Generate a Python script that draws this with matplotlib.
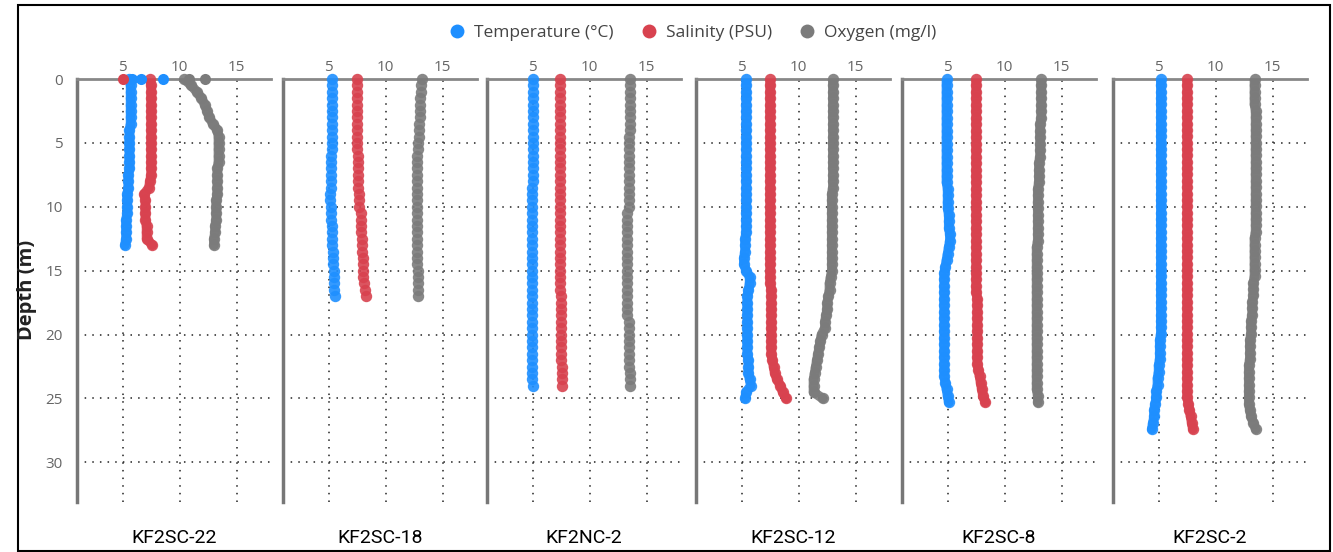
import numpy as np
import matplotlib
matplotlib.use("Agg")
import matplotlib.pyplot as plt
from matplotlib.lines import Line2D
from matplotlib.patches import Rectangle

# station names and maximum sampled depth (m)
stations = ["KF2SC-22", "KF2SC-18", "KF2NC-2", "KF2SC-12", "KF2SC-8", "KF2SC-2"]
max_depth = [13.0, 17.0, 24.0, 25.0, 25.3, 27.4]

# profiles, read every ~0.5 m from the surface down
temp = [
    [5.6, 5.7, 5.7, 5.7, 5.7, 5.7, 5.7, 5.7, 5.6, 5.6, 5.6, 5.6, 5.6, 5.6, 5.6, 5.5, 5.5, 5.5, 5.4, 5.4,
     5.4, 5.4, 5.3, 5.3, 5.3, 5.3, 5.2],
    [5.3, 5.3, 5.3, 5.3, 5.3, 5.3, 5.3, 5.3, 5.3, 5.3, 5.3, 5.3, 5.2, 5.2, 5.2, 5.2, 5.2, 5.2, 5.1, 5.1,
     5.2, 5.2, 5.2, 5.3, 5.3, 5.3, 5.3, 5.4, 5.4, 5.4, 5.5, 5.5, 5.5, 5.5, 5.6],
    [5.0, 5.0, 5.0, 5.0, 5.0, 5.0, 5.0, 5.0, 5.0, 5.0, 5.0, 5.0, 5.0, 5.0, 5.0, 5.0, 5.0, 4.9, 4.9, 4.9,
     4.9, 4.9, 4.9, 4.9, 4.9, 4.9, 4.9, 4.9, 4.9, 4.9, 4.9, 4.9, 4.9, 4.9, 4.9, 4.9, 4.9, 4.9, 4.9, 4.9,
     4.9, 4.9, 4.9, 4.9, 4.9, 4.9, 4.9, 4.9, 5.0],
    [5.4, 5.4, 5.4, 5.4, 5.4, 5.4, 5.4, 5.4, 5.4, 5.4, 5.4, 5.4, 5.4, 5.4, 5.4, 5.4, 5.4, 5.4, 5.4, 5.4,
     5.4, 5.4, 5.4, 5.4, 5.4, 5.3, 5.3, 5.3, 5.2, 5.2, 5.4, 5.7, 5.7, 5.6, 5.5, 5.5, 5.5, 5.5, 5.5, 5.5,
     5.5, 5.5, 5.5, 5.5, 5.6, 5.6, 5.6, 5.7, 5.8, 5.4, 5.3],
    [4.9, 4.9, 4.9, 4.9, 4.9, 4.9, 4.9, 4.9, 4.9, 4.9, 4.9, 4.9, 4.9, 4.9, 4.9, 4.9, 4.9, 5.0, 5.0, 5.0,
     5.0, 5.1, 5.1, 5.1, 5.2, 5.2, 5.1, 5.0, 4.9, 4.8, 4.7, 4.7, 4.7, 4.7, 4.7, 4.7, 4.7, 4.7, 4.7, 4.7,
     4.7, 4.7, 4.7, 4.7, 4.7, 4.7, 4.7, 4.8, 4.9, 5.0, 5.1],
    [5.2, 5.2, 5.2, 5.2, 5.2, 5.2, 5.2, 5.2, 5.2, 5.2, 5.2, 5.2, 5.2, 5.2, 5.2, 5.2, 5.2, 5.2, 5.2, 5.2,
     5.2, 5.2, 5.2, 5.2, 5.2, 5.2, 5.2, 5.2, 5.2, 5.2, 5.2, 5.2, 5.2, 5.2, 5.2, 5.2, 5.2, 5.2, 5.2, 5.2,
     5.2, 5.1, 5.1, 5.1, 5.1, 5.0, 5.0, 4.9, 4.9, 4.8, 4.8, 4.7, 4.6, 4.6, 4.5, 4.4],
]
salinity = [
    [7.4, 7.5, 7.5, 7.5, 7.5, 7.5, 7.5, 7.5, 7.5, 7.5, 7.5, 7.5, 7.5, 7.5, 7.5, 7.5, 7.4, 7.3, 6.9, 7.0,
     7.0, 7.0, 7.0, 7.1, 7.1, 7.1, 7.6],
    [7.5, 7.5, 7.5, 7.5, 7.5, 7.5, 7.5, 7.5, 7.5, 7.5, 7.5, 7.5, 7.6, 7.6, 7.6, 7.6, 7.6, 7.6, 7.7, 7.7,
     7.7, 7.8, 7.8, 7.8, 7.8, 7.9, 7.9, 7.9, 8.0, 8.0, 8.0, 8.0, 8.1, 8.2, 8.3],
    [7.4, 7.4, 7.4, 7.4, 7.4, 7.4, 7.4, 7.4, 7.4, 7.4, 7.4, 7.4, 7.4, 7.4, 7.4, 7.4, 7.4, 7.4, 7.4, 7.4,
     7.4, 7.4, 7.4, 7.4, 7.4, 7.4, 7.4, 7.4, 7.4, 7.4, 7.4, 7.4, 7.4, 7.4, 7.5, 7.5, 7.5, 7.5, 7.5, 7.5,
     7.5, 7.5, 7.5, 7.5, 7.5, 7.6, 7.6, 7.6, 7.6],
    [7.5, 7.5, 7.5, 7.5, 7.5, 7.5, 7.5, 7.5, 7.5, 7.5, 7.5, 7.5, 7.5, 7.5, 7.5, 7.5, 7.5, 7.5, 7.5, 7.5,
     7.5, 7.5, 7.5, 7.5, 7.5, 7.5, 7.5, 7.5, 7.5, 7.5, 7.5, 7.5, 7.5, 7.6, 7.6, 7.6, 7.6, 7.6, 7.6, 7.6,
     7.6, 7.6, 7.6, 7.6, 7.7, 7.8, 7.9, 8.1, 8.4, 8.6, 8.9],
    [7.5, 7.5, 7.5, 7.5, 7.5, 7.5, 7.5, 7.5, 7.5, 7.5, 7.5, 7.5, 7.5, 7.5, 7.5, 7.5, 7.5, 7.5, 7.5, 7.5,
     7.5, 7.5, 7.5, 7.5, 7.5, 7.5, 7.5, 7.5, 7.5, 7.5, 7.5, 7.5, 7.5, 7.5, 7.6, 7.6, 7.6, 7.6, 7.6, 7.6,
     7.6, 7.6, 7.6, 7.6, 7.6, 7.7, 7.8, 7.9, 8.0, 8.1, 8.3],
    [7.5, 7.5, 7.5, 7.5, 7.5, 7.5, 7.5, 7.5, 7.5, 7.5, 7.5, 7.5, 7.5, 7.5, 7.5, 7.5, 7.5, 7.5, 7.5, 7.5,
     7.5, 7.5, 7.5, 7.5, 7.5, 7.5, 7.5, 7.5, 7.5, 7.5, 7.5, 7.5, 7.5, 7.5, 7.5, 7.5, 7.5, 7.5, 7.5, 7.5,
     7.5, 7.5, 7.5, 7.5, 7.5, 7.5, 7.5, 7.5, 7.5, 7.5, 7.5, 7.6, 7.7, 7.8, 7.9, 8.0],
]
oxygen = [
    [10.4, 11.0, 11.5, 11.9, 12.2, 12.4, 12.6, 12.9, 13.3, 13.4, 13.4, 13.4, 13.4, 13.4, 13.3, 13.3, 13.3,
     13.3, 13.3, 13.2, 13.2, 13.2, 13.2, 13.1, 13.1, 13.0, 13.0],
    [13.2, 13.1, 13.1, 13.0, 13.0, 13.0, 13.0, 12.9, 12.9, 12.9, 12.8, 12.8, 12.7, 12.7, 12.7, 12.7, 12.7,
     12.7, 12.7, 12.7, 12.7, 12.7, 12.7, 12.7, 12.7, 12.7, 12.7, 12.7, 12.7, 12.7, 12.8, 12.8, 12.8, 12.8,
     12.8],
    [13.5, 13.5, 13.5, 13.5, 13.5, 13.5, 13.5, 13.5, 13.5, 13.4, 13.4, 13.4, 13.4, 13.4, 13.4, 13.4, 13.4,
     13.4, 13.4, 13.4, 13.4, 13.3, 13.3, 13.3, 13.3, 13.3, 13.3, 13.3, 13.3, 13.3, 13.3, 13.3, 13.3, 13.3,
     13.3, 13.3, 13.3, 13.3, 13.4, 13.4, 13.4, 13.4, 13.4, 13.4, 13.4, 13.4, 13.5, 13.5, 13.5],
    [13.0, 13.0, 13.0, 13.0, 13.0, 13.0, 13.0, 13.0, 13.0, 13.0, 13.0, 13.0, 13.0, 13.0, 13.0, 13.0, 13.0,
     13.0, 12.9, 12.9, 12.9, 12.9, 12.9, 12.9, 12.9, 12.9, 12.9, 12.9, 12.9, 12.9, 12.9, 12.8, 12.7, 12.7,
     12.6, 12.5, 12.5, 12.4, 12.3, 12.3, 12.0, 11.9, 11.8, 11.7, 11.6, 11.5, 11.4, 11.3, 11.3, 11.3, 12.1],
    [13.2, 13.2, 13.2, 13.2, 13.2, 13.2, 13.2, 13.1, 13.1, 13.1, 13.1, 13.1, 13.1, 13.0, 13.0, 13.0, 13.0,
     12.9, 12.9, 12.9, 12.9, 12.9, 12.9, 12.9, 12.9, 12.9, 12.8, 12.8, 12.8, 12.8, 12.8, 12.8, 12.8, 12.8,
     12.8, 12.8, 12.8, 12.8, 12.8, 12.8, 12.8, 12.8, 12.8, 12.8, 12.8, 12.8, 12.8, 12.8, 12.8, 12.9, 12.9],
    [13.4, 13.4, 13.4, 13.4, 13.4, 13.5, 13.5, 13.5, 13.5, 13.5, 13.5, 13.5, 13.5, 13.5, 13.5, 13.5, 13.5,
     13.5, 13.5, 13.5, 13.5, 13.5, 13.5, 13.5, 13.5, 13.4, 13.4, 13.4, 13.4, 13.4, 13.4, 13.4, 13.3, 13.3,
     13.3, 13.2, 13.2, 13.2, 13.1, 13.1, 13.1, 13.0, 13.0, 13.0, 13.0, 12.9, 12.9, 12.9, 12.9, 12.9, 12.9,
     12.9, 13.0, 13.1, 13.3, 13.5],
]
# loose readings logged right at the surface of KF2SC-22
surf_temp = [5.8, 6.6, 8.5]
surf_sal = [5.0]
surf_oxy = [10.8, 12.2]

dense = [True, False, False, True, True, True]

c_temp = "#1e8fff"
c_sal = "#d8424f"
c_oxy = "#7b7b7b"

W, H = 1333, 552
fig = plt.figure(figsize=(W / 100, H / 100), dpi=100)
plt.rcParams['font.family'] = ['Open Sans', 'DejaVu Sans']

lefts = [77, 283, 487, 696, 902, 1113]
ax_w = 194
top_px, bot_px = 79, 502

for i, name in enumerate(stations):
    ax = fig.add_axes([lefts[i] / W, 1 - bot_px / H, ax_w / W, (bot_px - top_px) / H])
    n = len(temp[i])
    depth = np.linspace(0, max_depth[i], n)
    for vals, col in [(temp[i], c_temp), (salinity[i], c_sal), (oxygen[i], c_oxy)]:
        if dense[i]:
            ax.plot(vals, depth, color=col, lw=7, solid_capstyle='round', alpha=0.9, zorder=3)
        ax.plot(vals, depth, 'o', color=col, ms=8.2, alpha=0.9, mec='none', zorder=4, clip_on=False)
    if i == 0:
        ax.plot(surf_temp, [0] * len(surf_temp), 'o', color=c_temp, ms=8, mec='none', zorder=4, clip_on=False)
        ax.plot(surf_sal, [0] * len(surf_sal), 'o', color=c_sal, ms=8, mec='none', zorder=4, clip_on=False)
        ax.plot(surf_oxy, [0] * len(surf_oxy), 'o', color=c_oxy, ms=8, mec='none', zorder=4, clip_on=False)

    ax.set_xlim(1, 18)
    ax.set_ylim(33.1, 0)
    ax.set_xticks([5, 10, 15])
    ax.set_yticks([0, 5, 10, 15, 20, 25, 30])
    ax.xaxis.tick_top()
    ax.tick_params(axis='both', length=0, colors='#666666', labelsize=11)
    ax.tick_params(axis='x', pad=3)
    ax.tick_params(axis='y', pad=10)
    if i > 0:
        ax.set_yticklabels([])
    ax.grid(True, linestyle=(0, (1, 4)), color='#222222', lw=1.1)
    ax.set_axisbelow(True)
    for s in ['right', 'bottom']:
        ax.spines[s].set_visible(False)
    ax.spines['left'].set_color('#777777')
    ax.spines['left'].set_linewidth(2.5)
    ax.spines['top'].set_color('#888888')
    ax.spines['top'].set_linewidth(2)
    ax.text(0.5, -0.085, name, transform=ax.transAxes, ha='center', va='center',
            fontsize=14, color='black', family=['Roboto', 'DejaVu Sans'])

fig.text(27 / W, 1 - 290 / H, "Depth (m)", rotation=90, ha='center', va='center',
         fontsize=14.5, color='#222222', fontweight='bold')

handles = [Line2D([], [], marker='o', ls='none', color=c, ms=10, mec='none') for c in (c_temp, c_sal, c_oxy)]
fig.legend(handles, ["Temperature (°C)", "Salinity (PSU)", "Oxygen (mg/l)"],
           loc='center', bbox_to_anchor=(688 / W, 1 - 33 / H), ncol=3, frameon=False,
           fontsize=12.5, handletextpad=0.0, columnspacing=1.0, labelcolor='#444444')

fig.patches.append(Rectangle((18 / W, 0.001), (1330 - 18) / W, 1 - 5 / H - 0.001, transform=fig.transFigure,
                             fill=False, ec='black', lw=1.5))

fig.savefig("out.png", dpi=100)
